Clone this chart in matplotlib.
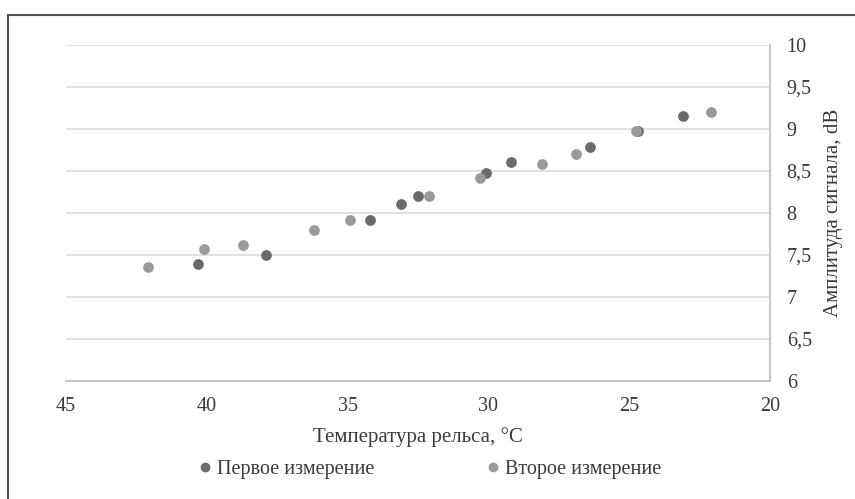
import matplotlib
matplotlib.use("Agg")
import matplotlib.pyplot as plt
from matplotlib.lines import Line2D
from matplotlib.ticker import FuncFormatter

plt.rcParams['font.family'] = ['Liberation Serif', 'DejaVu Serif']

# Первое измерение
t1 = [40.3, 37.9, 34.2, 33.1, 32.5, 30.1, 29.2, 26.4, 24.7, 23.1]
a1 = [7.39, 7.50, 7.91, 8.11, 8.20, 8.47, 8.61, 8.78, 8.97, 9.15]

# Второе измерение
t2 = [42.1, 40.1, 38.7, 36.2, 34.9, 32.1, 30.3, 28.1, 26.9, 24.75, 22.1]
a2 = [7.36, 7.57, 7.62, 7.80, 7.91, 8.20, 8.41, 8.58, 8.70, 8.98, 9.20]

c1 = '#6b6b6b'
c2 = '#9a9a9a'

fig = plt.figure(figsize=(8.55, 4.99), dpi=100)
ax = fig.add_axes([66 / 855, 1 - 380.7 / 499, (770 - 66) / 855, (380.7 - 45) / 499])

ax.scatter(t1, a1, s=60, color=c1, zorder=3, linewidths=0)
ax.scatter(t2, a2, s=60, color=c2, zorder=3, linewidths=0)

ax.set_xlim(45, 20)
ax.set_ylim(6, 10)
ax.set_xticks([45, 40, 35, 30, 25, 20])
ax.set_yticks([6, 6.5, 7, 7.5, 8, 8.5, 9, 9.5, 10])
ax.yaxis.set_major_formatter(FuncFormatter(lambda v, p: ('%g' % v).replace('.', ',')))
ax.yaxis.tick_right()
ax.yaxis.set_label_position('right')

ax.grid(axis='y', color='#dcdcdc', linewidth=1.2)
ax.set_axisbelow(True)
for s in ['top', 'left']:
    ax.spines[s].set_visible(False)
for s in ['bottom', 'right']:
    ax.spines[s].set_color('#bfbfbf')
    ax.spines[s].set_linewidth(1.2)

ax.tick_params(axis='both', length=0, labelsize=14.5, colors='#3a3a3a')
ax.tick_params(axis='y', pad=12)
ax.tick_params(axis='x', pad=12)

ax.set_xlabel('Температура рельса, °C', fontsize=15, color='#3a3a3a', labelpad=8)
ax.set_ylabel('Амплитуда сигнала, dB', fontsize=15, color='#3a3a3a', labelpad=9)

handles = [
    Line2D([], [], marker='o', linestyle='', markersize=6, color=c1, label='Первое измерение'),
    Line2D([], [], marker='o', linestyle='', markersize=6, color=c2, label='Второе измерение'),
]
fig.legend(handles=handles, loc='center', bbox_to_anchor=(428 / 855, 1 - 469 / 499),
           ncol=2, frameon=False, fontsize=14.5, handletextpad=0.1, columnspacing=5.4,
           handlelength=1.0, labelcolor='#3a3a3a')

# рамка вокруг рисунка
fig.add_artist(Line2D([8 / 855, 1], [1 - 15 / 499, 1 - 15 / 499], color='#555555', linewidth=1.5))
fig.add_artist(Line2D([8 / 855, 8 / 855], [0, 1 - 15 / 499], color='#555555', linewidth=1.5))

fig.savefig('out.png', dpi=100)
